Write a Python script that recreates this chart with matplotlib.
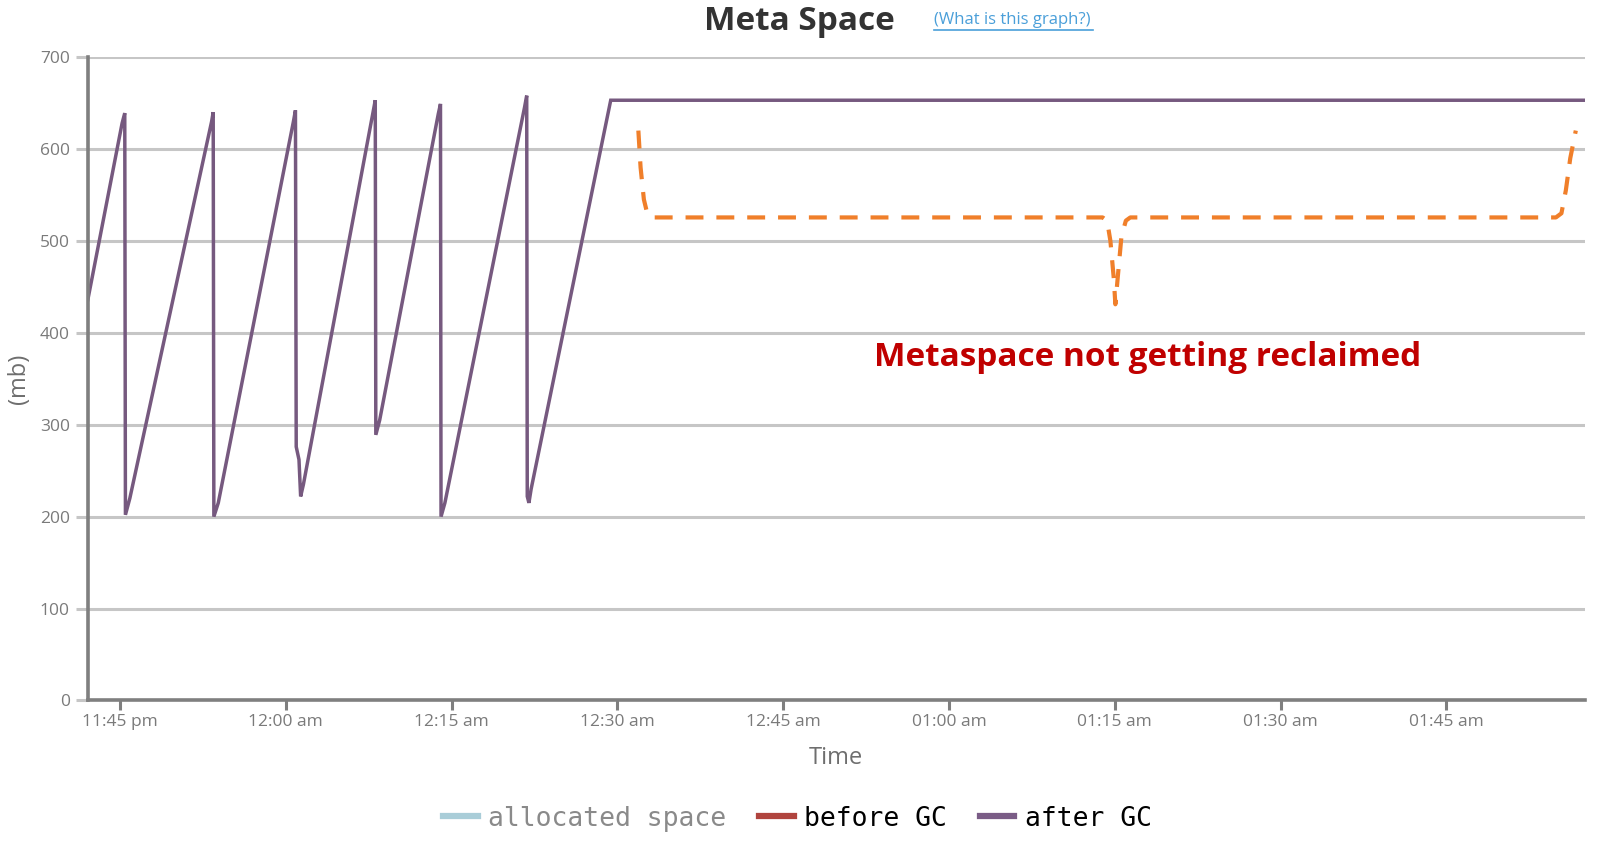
import matplotlib
matplotlib.use("Agg")
import matplotlib.pyplot as plt
import matplotlib.dates as mdates
from matplotlib.lines import Line2D
import pandas as pd

# ---------------- data ----------------
base_time = "2000-01-01 23:45"          # 11:45 pm
# after-GC metaspace, minutes relative to 11:45 pm, values in mb
after_gc_minutes = [-2.9, 0.2, 0.44, 0.5, 0.9,
                    8.3, 8.44, 8.5, 8.9,
                    15.7, 15.88, 15.95, 16.2, 16.35, 16.6,
                    22.9, 23.1, 23.15, 23.5,
                    28.8, 29.0, 29.05, 29.4,
                    36.6, 36.8, 36.85, 37.0, 37.2,
                    44.4, 132.5]
after_gc_values = [436, 628, 639, 202, 220,
                   630, 640, 200, 215,
                   630, 642, 276, 262, 222, 235,
                   640, 653, 289, 305,
                   638, 649, 200, 215,
                   645, 658, 222, 215, 230,
                   653, 653]

# annotation brace (dashed), same units
brace_minutes = [46.9, 47.1, 47.4, 47.7, 48.1, 88.9, 89.3, 89.6, 89.9, 90.05,
                 90.3, 90.6, 91.0, 91.4, 129.9, 130.4, 130.8, 131.2, 131.7]
brace_values = [620, 580, 545, 530, 525.5, 525.5, 522, 500, 460, 431,
                465, 505, 522, 525.5, 525.5, 530, 555, 590, 620]

tick_minutes = [0, 15, 30, 45, 60, 75, 90, 105, 120]
y_ticks = [0, 100, 200, 300, 400, 500, 600, 700]
legend_labels = ["allocated space", "before GC", "after GC"]
legend_colors = ["#a9cdd8", "#b0443e", "#7a5c86"]

title = "Meta Space"
link_text = "(What is this graph?)"
annotation = "Metaspace not getting reclaimed"

# ---------------- plot ----------------
t0 = pd.Timestamp(base_time)
x_after = t0 + pd.to_timedelta(after_gc_minutes, unit="m")
x_brace = t0 + pd.to_timedelta(brace_minutes, unit="m")
x_ticks = t0 + pd.to_timedelta(tick_minutes, unit="m")

fig = plt.figure(figsize=(16, 8.5), dpi=100)
ax = fig.add_axes([0.0549, 0.1759, 0.9355, 0.757])

ax.plot(x_after, after_gc_values, color="#76597f", lw=2.5, solid_joinstyle="miter", zorder=3)
ax.plot(x_brace, brace_values, color="#f07f2a", lw=3, dashes=(4.3, 3.1), zorder=4)

ax.set_ylim(0, 700)
ax.set_xlim(x_after[0], x_after[-1])
ax.set_yticks(y_ticks)
ax.set_xticks(x_ticks)
ax.xaxis.set_major_formatter(
    matplotlib.ticker.FuncFormatter(lambda v, p: mdates.num2date(v).strftime("%I:%M %p").lower()))

ax.grid(axis="y", color="#c6c6c6", lw=2.2, zorder=0)
ax.grid(axis="x", visible=False)
for s in ["top", "right"]:
    ax.spines[s].set_visible(False)
for s in ["left", "bottom"]:
    ax.spines[s].set_color("#7f7f7f")
    ax.spines[s].set_linewidth(2.6)
    ax.spines[s].set_zorder(5)

ax.tick_params(axis="y", length=9, width=2.2, color="#c6c6c6", labelcolor="#7a7a7a",
               labelsize=12.5, pad=4)
ax.tick_params(axis="x", length=7, width=2.2, color="#7f7f7f", labelcolor="#7a7a7a",
               labelsize=12.5, pad=3)
for lab in ax.get_xticklabels() + ax.get_yticklabels():
    lab.set_family("Open Sans")

ax.set_ylabel("(mb)", fontsize=17, color="#6e6e6e", family="Open Sans", labelpad=6)
ax.set_xlabel("Time", fontsize=17, color="#6e6e6e", family="Open Sans", labelpad=11)

fig.text(0.4995, 0.975, title, ha="center", va="center", fontsize=24, fontweight="bold",
         color="#333333", family="Open Sans")
fig.text(0.5838, 0.976, link_text, ha="left", va="center", fontsize=12, color="#4a9fd9",
         family="Open Sans")
# underline for link
fig.add_artist(Line2D([0.5838, 0.683], [0.965, 0.965], color="#4a9fd9", lw=1.2))

fig.text(0.7175, 0.5795, annotation, ha="center", va="center", fontsize=24, fontweight="bold",
         color="#c00000", family="Open Sans")

handles = [Line2D([], [], color=c, lw=4.5) for c in legend_colors]
leg = fig.legend(handles, legend_labels, loc="center", bbox_to_anchor=(0.4985, 0.037), ncol=3,
                 frameon=False, prop={"family": "DejaVu Sans Mono", "size": 19},
                 handlelength=1.3, handletextpad=0.4, columnspacing=1.25)
for txt, col in zip(leg.get_texts(), ["#8a8a8a", "#000000", "#000000"]):
    txt.set_color(col)

fig.savefig("out.png", dpi=100)
